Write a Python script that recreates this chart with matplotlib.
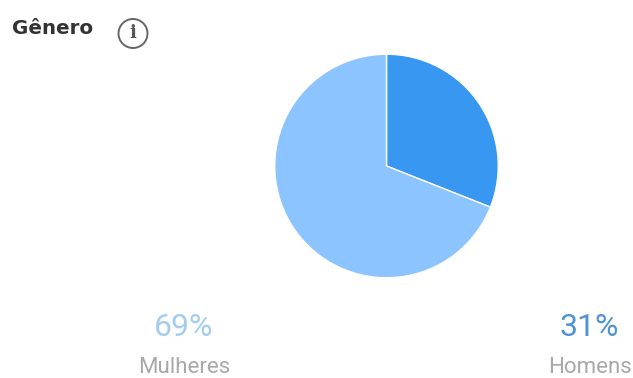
import matplotlib
matplotlib.use("Agg")
import matplotlib.pyplot as plt
from matplotlib.patches import Circle

categories = ["Homens", "Mulheres"]
values = [31, 69]
labels = ["31%", "69%"]
colors = ["#3897F0", "#8CC4FF"]

W, H = 633, 378
fig = plt.figure(figsize=(W/100, H/100), dpi=100)
plt.rcParams['font.family'] = 'Roboto'
ax = fig.add_axes([0, 0, 1, 1])
ax.set_xlim(0, W); ax.set_ylim(H, 0); ax.axis('off')

pax = fig.add_axes([(386.5-114)/W, 1-(166+114)/H, 228/W, 228/H])
pax.pie(values, colors=colors, startangle=90, counterclock=False, radius=1,
        wedgeprops=dict(edgecolor='white', linewidth=1))
pax.set_xlim(-1.02, 1.02); pax.set_ylim(-1.02, 1.02)

ax.text(12, 28.5, "Gênero", fontsize=14.3, fontweight='bold', family='DejaVu Sans',
        color='#333333', va='center', ha='left')
ax.add_patch(Circle((133, 33.5), 14.5, fill=False, ec='#666666', lw=1.4))
ax.text(133, 33.5, "i", fontsize=13, fontweight='bold', family='DejaVu Serif',
        color='#555555', ha='center', va='center')

ax.text(184, 327.5, labels[1], fontsize=23, color='#a3cdee', ha='center', va='center')
ax.text(184, 367.5, categories[1], fontsize=16, color='#a8a8a8', ha='center', va='center')
ax.text(589, 327.5, labels[0], fontsize=23, color='#4f93d2', ha='center', va='center')
ax.text(590, 367.5, categories[0], fontsize=16, color='#a8a8a8', ha='center', va='center')

fig.savefig("out.png", dpi=100)
